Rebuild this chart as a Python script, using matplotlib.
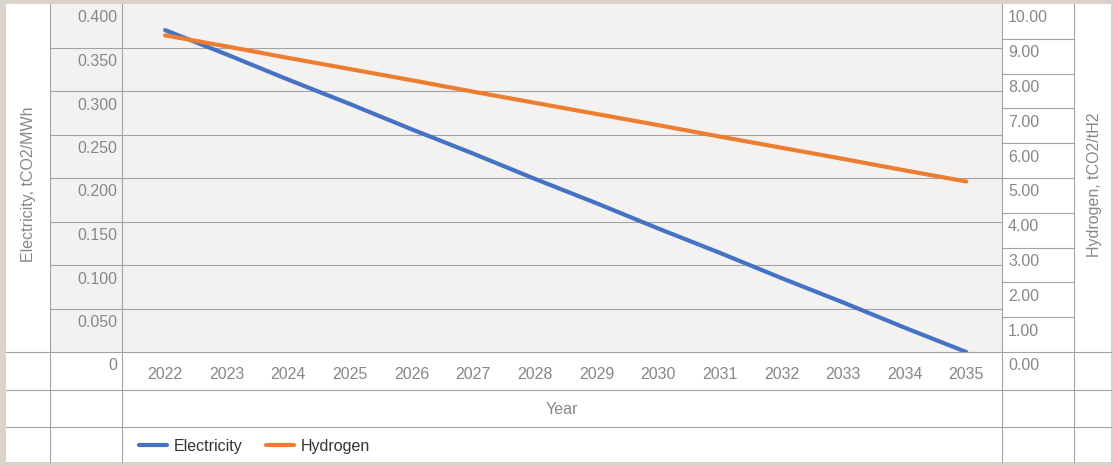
import matplotlib
matplotlib.use("Agg")
import matplotlib.pyplot as plt
from matplotlib.lines import Line2D
from matplotlib.patches import Rectangle
from matplotlib.transforms import blended_transform_factory, offset_copy

plt.rcParams['font.family'] = ['Liberation Sans', 'DejaVu Sans']

years = [2022, 2023, 2024, 2025, 2026, 2027, 2028, 2029, 2030, 2031, 2032, 2033, 2034, 2035]
electricity = [0.370, 0.342, 0.313, 0.285, 0.256, 0.228, 0.199, 0.171, 0.142, 0.114, 0.085, 0.057, 0.028, 0.000]
hydrogen = [9.10, 8.78, 8.45, 8.13, 7.81, 7.48, 7.16, 6.84, 6.52, 6.19, 5.87, 5.55, 5.22, 4.90]

left_ticks = [0.400, 0.350, 0.300, 0.250, 0.200, 0.150, 0.100, 0.050, 0]
left_labels = ['0.400', '0.350', '0.300', '0.250', '0.200', '0.150', '0.100', '0.050', '0']
right_ticks = [10, 9, 8, 7, 6, 5, 4, 3, 2, 1, 0]
right_labels = ['10.00', '9.00', '8.00', '7.00', '6.00', '5.00', '4.00', '3.00', '2.00', '1.00', '0.00']

W, H = 1114, 466
BLUE = '#4472c4'
ORANGE = '#ed7d31'
GRID = '#a3a3a3'
TXT = '#878787'
FS = 11.5


def fx(x):
    return x / W


def fy(y):
    return 1 - y / H


fig = plt.figure(figsize=(W / 100, H / 100), dpi=100)
fig.patch.set_facecolor('#dad3cb')
fig.add_artist(Rectangle((fx(6), fy(462)), fx(1111) - fx(6), fy(4) - fy(462),
                         transform=fig.transFigure, facecolor='white', edgecolor='none', zorder=-10))
# grey strip behind the left tick labels
fig.add_artist(Rectangle((fx(50), fy(352)), fx(122) - fx(50), fy(4) - fy(352),
                         transform=fig.transFigure, facecolor='#f3f2f1', edgecolor='none', zorder=-9))

ax = fig.add_axes([fx(122), fy(352), fx(1002) - fx(122), fy(4) - fy(352)])
ax.set_facecolor('#f3f2f1')
ax.set_xlim(2021.30, 2035.58)
ax.set_ylim(0, 0.4)
for s in ax.spines.values():
    s.set_visible(False)

ax2 = ax.twinx()
ax2.set_ylim(0, 10)
ax2.patch.set_visible(False)
for s in ax2.spines.values():
    s.set_visible(False)

col = 72 / 880
for v in left_ticks[1:-1]:
    ax.axhline(v, xmin=-col, xmax=1, color=GRID, lw=0.8, clip_on=False, zorder=0)
for v in right_ticks[1:-1]:
    ax2.axhline(v, xmin=1, xmax=1 + col, color=GRID, lw=0.8, clip_on=False, zorder=0)

ax.plot(years, electricity, color=BLUE, lw=3, solid_capstyle='round', label='Electricity')
ax2.plot(years, hydrogen, color=ORANGE, lw=3, solid_capstyle='round', label='Hydrogen')

ax.set_yticks([])
ax2.set_yticks([])
ax.set_xticks(years)
ax.set_xticklabels([str(y) for y in years])
ax.tick_params(axis='x', length=0, pad=10.5, labelsize=FS, labelcolor=TXT)

# value labels sit in the cell just under their gridline
lt = offset_copy(blended_transform_factory(ax.transAxes, ax.transData), fig=fig, x=-5, y=-6.5, units='dots')
for v, s in zip(left_ticks, left_labels):
    ax.text(0, v, s, transform=lt, ha='right', va='top', fontsize=FS, color=TXT, clip_on=False)
rt = offset_copy(blended_transform_factory(ax2.transAxes, ax2.transData), fig=fig, x=6, y=-6.5, units='dots')
for v, s in zip(right_ticks, right_labels):
    ax2.text(1, v, s, transform=rt, ha='left', va='top', fontsize=FS, color=TXT, clip_on=False)

# table rules
for x in [50, 122, 1002, 1074]:
    fig.add_artist(Line2D([fx(x), fx(x)], [fy(4), fy(462)], transform=fig.transFigure, color=GRID, lw=0.8))
for y in [352, 390, 427]:
    fig.add_artist(Line2D([fx(6), fx(1111)], [fy(y), fy(y)], transform=fig.transFigure, color=GRID, lw=0.8))

fig.text(fx(562), fy(409.5), 'Year', ha='center', va='center', fontsize=FS, color=TXT)
fig.text(fx(29), fy(184), 'Electricity, tCO2/MWh', rotation=90, ha='center', va='center', fontsize=FS, color=TXT)
fig.text(fx(1094), fy(185), 'Hydrogen, tCO2/tH2', rotation=90, ha='center', va='center', fontsize=FS, color=TXT)

h1 = Line2D([], [], color=BLUE, lw=3, solid_capstyle='round')
h2 = Line2D([], [], color=ORANGE, lw=3, solid_capstyle='round')
leg = fig.legend([h1, h2], ['Electricity', 'Hydrogen'], loc='center left',
                 bbox_to_anchor=(fx(139), fy(446)), ncol=2, frameon=False, fontsize=FS,
                 borderpad=0, borderaxespad=0, handlelength=1.75, handletextpad=0.45,
                 columnspacing=1.45)
for t in leg.get_texts():
    t.set_color('#333333')

fig.savefig('out.png', dpi=100)
